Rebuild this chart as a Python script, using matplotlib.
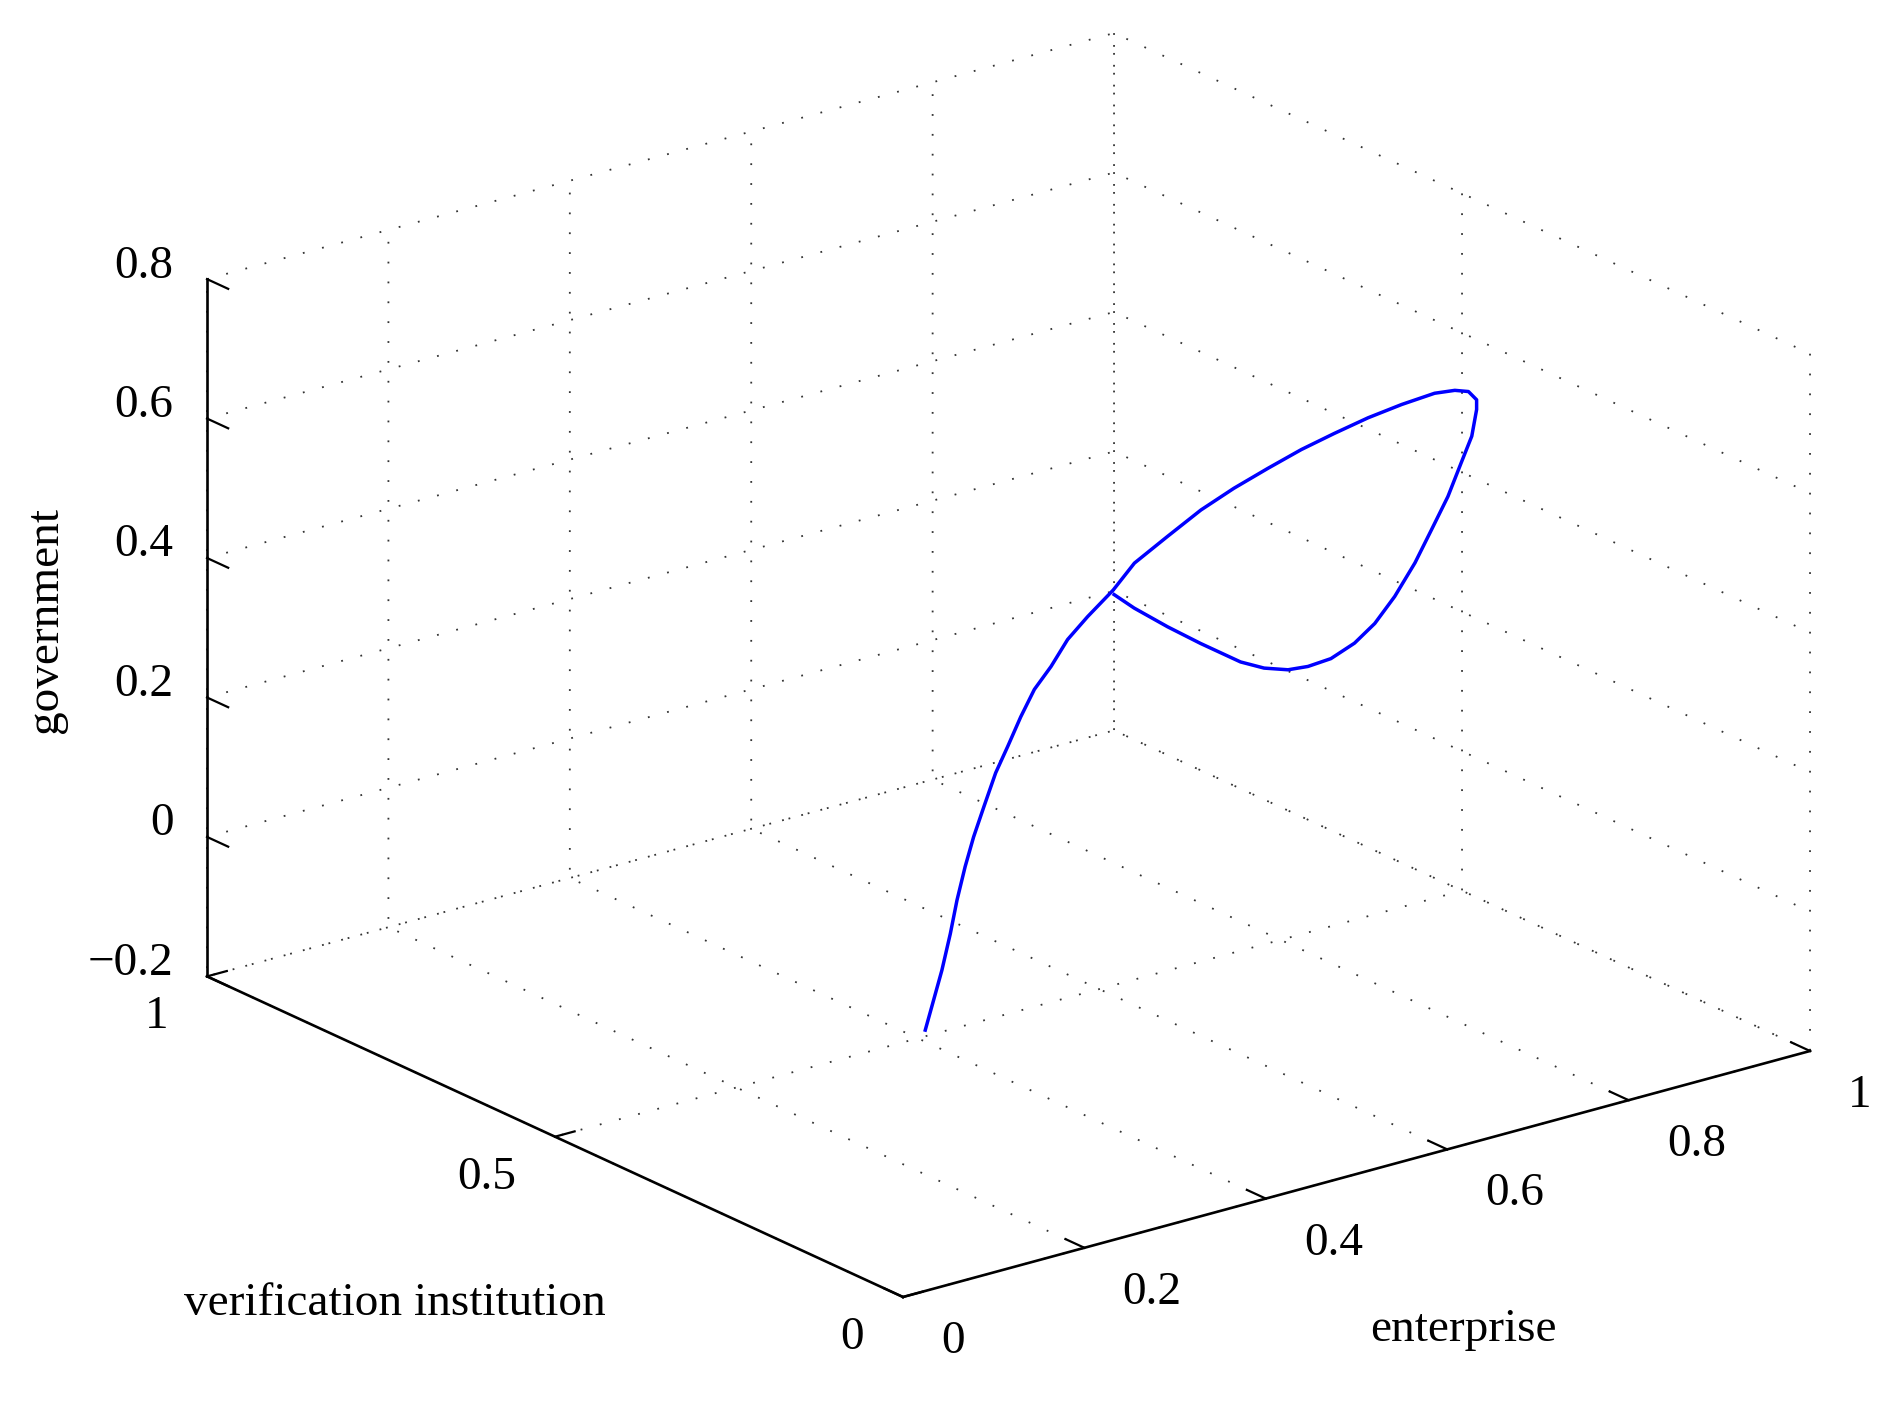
import numpy as np
import matplotlib
matplotlib.use('Agg')
import matplotlib.pyplot as plt
from mpl_toolkits.mplot3d import proj3d

plt.rcParams['font.family'] = ['Liberation Serif', 'DejaVu Serif']
plt.rcParams['font.size'] = 34

# trajectory
enterprise = [0.178, 0.195, 0.204, 0.221, 0.236, 0.245, 0.262, 0.281, 0.294, 0.315,
              0.337, 0.352, 0.378, 0.404, 0.426, 0.462,
              0.493, 0.537, 0.574, 0.618, 0.663, 0.700, 0.744, 0.789, 0.826, 0.870,
              0.900, 0.915, 0.924, 0.924,
              0.911, 0.899, 0.877, 0.859, 0.833, 0.803, 0.781, 0.751, 0.725, 0.692,
              0.670, 0.636, 0.610, 0.566, 0.522, 0.485, 0.463]
verification = [0.20, 0.21, 0.21, 0.22, 0.23, 0.23, 0.24, 0.25, 0.25, 0.26,
                0.27, 0.27, 0.28, 0.29, 0.29, 0.30,
                0.31, 0.32, 0.32, 0.33, 0.34, 0.34, 0.35, 0.36, 0.36, 0.37,
                0.38, 0.38, 0.38, 0.38,
                0.37, 0.37, 0.36, 0.36, 0.35, 0.34, 0.34, 0.33, 0.33, 0.32,
                0.32, 0.31, 0.31, 0.31, 0.30, 0.30, 0.30]
government = [0.028, 0.061, 0.100, 0.142, 0.180, 0.225, 0.257, 0.289, 0.333, 0.359,
              0.389, 0.423, 0.442, 0.467, 0.492, 0.513,
              0.536, 0.554, 0.579, 0.590, 0.598, 0.612, 0.615, 0.617, 0.623, 0.619,
              0.608, 0.601, 0.586, 0.572,
              0.543, 0.508, 0.473, 0.432, 0.398, 0.365, 0.334, 0.321, 0.308, 0.313,
              0.316, 0.335, 0.353, 0.395, 0.439, 0.479, 0.506]

x_ticks = [0, 0.2, 0.4, 0.6, 0.8, 1]
x_ticklabels = ['0', '0.2', '0.4', '0.6', '0.8', '1']
y_ticks = [0, 0.5, 1]
y_ticklabels = ['0', '0.5', '1']
z_ticks = [-0.2, 0, 0.2, 0.4, 0.6, 0.8]
z_ticklabels = ['\u22120.2', '0', '0.2', '0.4', '0.6', '0.8']

W, H = 1884, 1411
fig = plt.figure(figsize=(W / 100, H / 100), dpi=100)
ax = fig.add_axes([0, 0, 1, 1], projection='3d', proj_type='ortho')
ax.view_init(elev=20.7, azim=-127.5)
box = (1, 1, 0.652)
ax.set_box_aspect(box)

ax.plot(enterprise, verification, government, color='#0000ff', lw=2.5)

ax.set_xlim(0, 1)
ax.set_ylim(0, 1)
ax.set_zlim(-0.2, 0.8)
ax.set_xticks(x_ticks)
ax.set_yticks(y_ticks)
ax.set_zticks(z_ticks)
ax.set_xticklabels(x_ticklabels, ha='left', va='baseline')
ax.set_yticklabels(y_ticklabels, ha='right', va='center')
ax.set_zticklabels(z_ticklabels, ha='right', va='baseline')
ax.tick_params(colors='black')
# z ticks point along the y direction, as in the original
ax.zaxis._get_tickdir = lambda position: 1

ax.xaxis.set_rotate_label(False)
ax.yaxis.set_rotate_label(False)
ax.zaxis.set_rotate_label(False)
ax.set_xlabel('enterprise')
ax.set_ylabel('verification institution')
ax.set_zlabel('government', rotation=90)

tick_out = {'x': 0.34, 'y': 0.27, 'z': -0.38}
for name, axis in zip('xyz', [ax.xaxis, ax.yaxis, ax.zaxis]):
    axis.pane.set_facecolor((1, 1, 1, 0))
    axis.pane.set_edgecolor((1, 1, 1, 0))
    axis._axinfo['grid'].update(color='0.2', linewidth=1.3, linestyle=(0, (1.0, 10.0)))
    axis.line.set_linewidth(1.9)
    axis.line.set_color('black')
    axis._axinfo['tick']['inward_factor'] = 0.0
    axis._axinfo['tick']['outward_factor'] = tick_out[name]
    axis._axinfo['tick']['linewidth'] = {True: 1.6, False: 0.8}
ax.grid(True)


# fit the box onto the reference corners (pixels, origin bottom-left)
def corners_px():
    cx = np.array([0, 0, 1, 1])
    cy = np.array([0, 1, 0, 1])
    cz = np.array([-0.2, -0.2, -0.2, 0.8])
    xs, ys, _ = proj3d.proj_transform(cx, cy, cz, ax.get_proj())
    return ax.transData.transform(np.column_stack([xs, ys]))


fig.canvas.draw()
c = corners_px()
k = (1809 - 206) / (c[2, 0] - c[1, 0])
ax.set_box_aspect(box, zoom=k)
fig.canvas.draw()
c = corners_px()
dx = 903 - c[0, 0]
dy = (H - 1297) - c[0, 1]
pos = ax.get_position(original=True)
ax.set_position([pos.x0 + dx / W, pos.y0 + dy / H, pos.width, pos.height])
fig.canvas.draw()

# label offsets in data units -> points
ax_points = sum(72.0 * ax.bbox.size / fig.dpi)
unit = 48 / ax_points * 0.08
ax.tick_params(axis='x', pad=0.055 / unit - 8)
ax.tick_params(axis='y', pad=0.043 / unit - 8)
ax.tick_params(axis='z', pad=0.021 / unit - 8)
ax.xaxis.labelpad = 0.1535 / unit - 21
ax.yaxis.labelpad = 0.1766 / unit - 21
ax.zaxis.labelpad = 0.1004 / unit - 21

fig.savefig('out.png', dpi=100)
